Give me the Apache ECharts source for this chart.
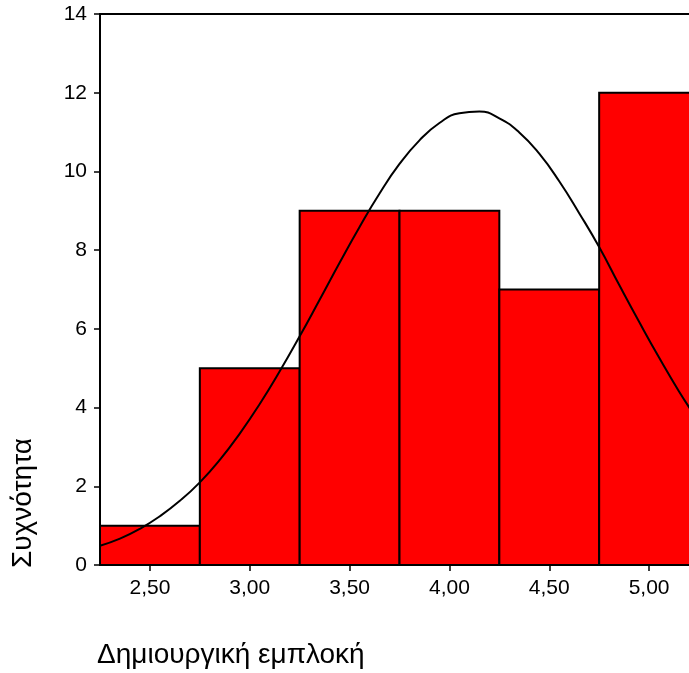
<!DOCTYPE html>
<html>
<head>
<meta charset="utf-8">
<script src="https://cdn.jsdelivr.net/npm/echarts@6/dist/echarts.min.js"></script>
<style>
html,body{margin:0;padding:0;background:#fff;}
#chart{width:689px;height:673px;}
</style>
</head>
<body>
<div id="chart"></div>
<script>
// Histogram bins (lower edge, upper edge) and frequencies
var binStarts = [2.25, 2.75, 3.25, 3.75, 4.25, 4.75];
var binEnds   = [2.75, 3.25, 3.75, 4.25, 4.75, 5.25];
var counts    = [1, 5, 9, 9, 7, 12];

// Normal curve points
var curveX = [2.25, 2.35, 2.45, 2.55, 2.65, 2.75, 2.85, 2.95, 3.05, 3.15, 3.25, 3.35, 3.45, 3.55, 3.65, 3.75, 3.85, 3.95, 4.05, 4.15, 4.25, 4.35, 4.45, 4.55, 4.65, 4.75, 4.85, 4.95, 5.05, 5.15, 5.25];
var curveY = [0.49, 0.67, 0.92, 1.24, 1.63, 2.10, 2.67, 3.34, 4.09, 4.92, 5.81, 6.74, 7.68, 8.59, 9.44, 10.19, 10.79, 11.23, 11.48, 11.52, 11.35, 10.99, 10.45, 9.75, 8.94, 8.08, 7.12, 6.18, 5.27, 4.41, 3.63];

// Tick labels
var xTicks = [2.5, 3.0, 3.5, 4.0, 4.5, 5.0];
var yTicks = [0, 2, 4, 6, 8, 10, 12, 14];

var xAxisTitle = 'Δημιουργική εμπλοκή';
var yAxisTitle = 'Συχνότητα';

var chart = echarts.init(document.getElementById('chart'), null, {renderer: 'canvas'});

var barData = binStarts.map(function (s, i) { return [s, binEnds[i], counts[i]]; });
var lineData = curveX.map(function (x, i) { return [x, curveY[i]]; });

var font = 'Liberation Sans, Arial, sans-serif';

chart.setOption({
  animation: false,
  backgroundColor: '#fff',
  grid: {
    left: 100, width: 599, top: 14, bottom: 108,
    outerBoundsMode: 'none', containLabel: false,
    show: true, borderColor: '#000', borderWidth: 2, backgroundColor: 'transparent'
  },
  xAxis: {
    type: 'value',
    min: 2.25, max: 5.25,
    splitLine: {show: false},
    axisLine: {show: true, onZero: false, lineStyle: {color: '#000', width: 2}},
    axisTick: {show: true, customValues: xTicks, length: 6, lineStyle: {color: '#000', width: 1.5}},
    axisLabel: {
      customValues: xTicks, color: '#000', fontFamily: font, fontSize: 21, margin: 13,
      formatter: function (v) { return v.toFixed(2).replace('.', ','); }
    }
  },
  yAxis: {
    type: 'value',
    min: 0, max: 14, interval: 2,
    splitLine: {show: false},
    axisLine: {show: true, lineStyle: {color: '#000', width: 2}},
    axisTick: {show: true, length: 6, lineStyle: {color: '#000', width: 1.5}},
    axisLabel: {color: '#000', fontFamily: font, fontSize: 21, margin: 13}
  },
  graphic: [
    {type: 'text', left: 97, top: 641, style: {text: xAxisTitle, fontFamily: font, fontSize: 28, fill: '#000'}},
    {type: 'text', x: 9, y: 568, rotation: Math.PI / 2, style: {text: yAxisTitle, fontFamily: font, fontSize: 28, fill: '#000', textAlign: 'left', textVerticalAlign: 'top'}}
  ],
  series: [
    {
      type: 'custom',
      data: barData,
      encode: {x: [0, 1], y: 2},
      z: 2,
      clip: true,
      renderItem: function (params, api) {
        var p0 = api.coord([api.value(0), api.value(2)]);
        var p1 = api.coord([api.value(1), 0]);
        return {
          type: 'rect',
          shape: {x: p0[0], y: p0[1], width: p1[0] - p0[0], height: p1[1] - p0[1]},
          style: {fill: '#ff0000', stroke: '#000', lineWidth: 2}
        };
      }
    },
    {
      type: 'line',
      data: lineData,
      smooth: true,
      symbol: 'none',
      z: 3,
      clip: true,
      lineStyle: {color: '#000', width: 2}
    }
  ]
});
</script>
</body>
</html>
